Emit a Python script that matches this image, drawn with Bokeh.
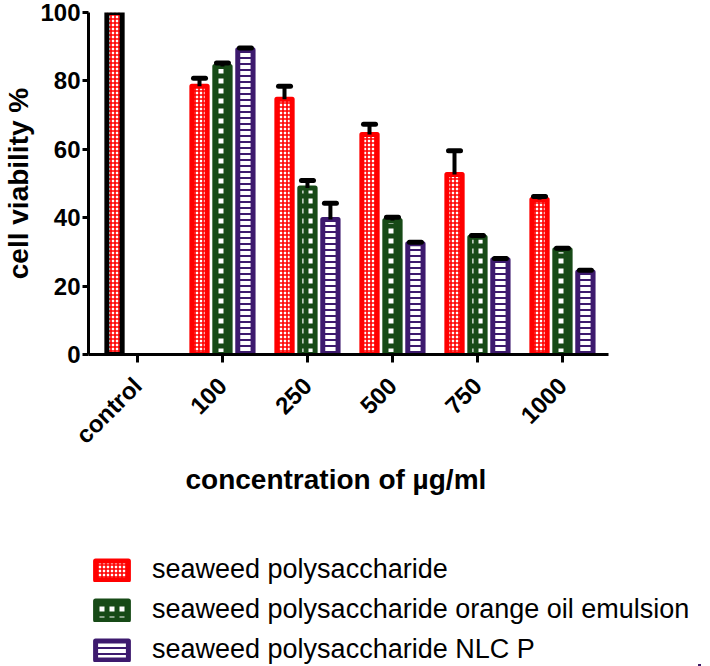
import math
from bokeh.plotting import figure
from bokeh.layouts import column
from bokeh.models import (ColumnDataSource, Range1d, Legend, LegendItem,
                          Whisker, TeeHead, FixedTicker, Title)
from bokeh.transform import dodge
from bokeh.embed import file_html
from bokeh.resources import INLINE

# ---------------- data ----------------
categories = ["control", "100", "250", "500", "750", "1000"]
concentrations = ["100", "250", "500", "750", "1000"]
series_names = ["seaweed polysaccharide",
                "seaweed polysaccharide orange oil emulsion",
                "seaweed polysaccharide NLC P"]
control_value = [100.0]
sp_values = [78.4, 74.6, 64.3, 52.6, 45.3]
sp_errors = [2.4, 3.8, 3.0, 7.0, 0.9]
emul_values = [84.2, 48.7, 39.2, 34.3, 30.6]
emul_errors = [1.0, 2.2, 0.9, 0.5, 0.5]
nlc_values = [89.1, 39.5, 32.4, 27.7, 24.1]
nlc_errors = [0.5, 4.7, 0.4, 0.4, 0.5]
y_ticks = [0, 20, 40, 60, 80, 100]
x_title = "concentration of µg/ml"
y_title = "cell viability %"

# category positions on the x axis
cat_pos = {c: i for i, c in enumerate(categories)}
conc_pos = [cat_pos[c] for c in concentrations]

# ---------------- styles ----------------
RED = "#ff0000"
GREEN = "#174a17"
PURPLE = "#3d1a6e"
FONT = "Liberation Sans"
OFFSETS = [-0.27, 0.0, 0.27]
BAR_W = 0.18
X_START, X_END = -0.576, 6.624

p = figure(
    x_range=Range1d(X_START, X_END),
    y_range=Range1d(0, 100),
    width=710, height=520,
    min_border_left=88, min_border_right=10,
    min_border_top=12, min_border_bottom=166,
    output_backend="svg", toolbar_location=None,
)
p.outline_line_color = None
p.xgrid.visible = False
p.ygrid.visible = False

# control bar
ctrl_src = ColumnDataSource(dict(x=[cat_pos["control"]], top=control_value))
p.vbar(x=dodge("x", OFFSETS[0]), top="top", bottom=0, width=BAR_W,
       source=ctrl_src, fill_color="white", line_color="black", line_width=5,
       line_join="round", hatch_pattern="cross", hatch_color=RED,
       hatch_scale=4, hatch_weight=1.6)

styles = [
    dict(line_color=RED, fill_color="white", hatch_pattern="cross", hatch_color=RED,
         hatch_scale=4, hatch_weight=1.6),
    dict(line_color=GREEN, fill_color="white", hatch_pattern="cross", hatch_color=GREEN,
         hatch_scale=10, hatch_weight=5),
    dict(line_color=PURPLE, fill_color="white", hatch_pattern="horizontal_line",
         hatch_color=PURPLE, hatch_scale=6, hatch_weight=2),
]
vals = [sp_values, emul_values, nlc_values]
errs = [sp_errors, emul_errors, nlc_errors]

sources = []
for name, v, e, off, st in zip(series_names, vals, errs, OFFSETS, styles):
    src = ColumnDataSource(dict(x=conc_pos, top=v,
                                upper=[a + b for a, b in zip(v, e)]))
    sources.append(src)
    p.vbar(x=dodge("x", off), top="top", bottom=0, width=BAR_W,
           source=src, line_width=5, line_join="round", **st)
    w = Whisker(source=src, base=dodge("x", off), lower="top",
                upper="upper", dimension="height", line_width=4, line_color="black",
                upper_head=TeeHead(size=12, line_width=5, line_color="black",
                                   line_cap="round"),
                lower_head=None, level="annotation")
    p.add_layout(w)

# axes
for ax in (p.xaxis[0], p.yaxis[0]):
    ax.axis_line_width = 3
    ax.major_tick_line_width = 3
    ax.major_tick_in = 0
    ax.minor_tick_line_color = None
    ax.major_label_text_font = FONT
    ax.major_label_text_font_style = "bold"
    ax.major_label_text_font_size = "24px"
    ax.major_label_text_color = "black"
    ax.axis_label_text_font = FONT
    ax.axis_label_text_font_style = "bold"
    ax.axis_label_text_font_size = "28px"
    ax.axis_label_text_color = "black"

p.yaxis.ticker = FixedTicker(ticks=y_ticks)
p.yaxis.bounds = (0, 100)
p.yaxis.major_tick_out = 6
p.yaxis.major_label_standoff = 2
p.yaxis.axis_label = y_title
p.yaxis.axis_label_standoff = 3

p.xaxis.ticker = FixedTicker(ticks=list(cat_pos.values()))
p.xaxis.major_label_overrides = {i: c for c, i in cat_pos.items()}
p.xaxis.bounds = (X_START, 5.54)
p.xaxis.major_tick_out = 8
p.xaxis.major_label_orientation = math.pi / 4
p.xaxis.major_label_standoff = 19

# x-axis title, placed under the axis (left-aligned with an offset)
p.add_layout(Title(text=x_title, align="left", offset=97, standoff=0,
                   text_font=FONT, text_font_style="bold", text_font_size="28px",
                   text_color="black"), "below")

# ---------------- legend panel ----------------
# same series drawn again out of view (shifted off the frame), only to feed the legend
lg = figure(width=710, height=146,
            x_range=Range1d(X_START, X_END), y_range=Range1d(150, 250),
            x_axis_type=None, y_axis_type=None, min_border=0,
            output_backend="svg", toolbar_location=None)
lg.outline_line_color = None
lg.xgrid.visible = False
lg.ygrid.visible = False
items = []
for name, src, st in zip(series_names, sources, styles):
    r = lg.vbar(x=dodge("x", 50), top="top", bottom=0, width=BAR_W, source=src,
                line_width=5, line_join="round", **st)
    items.append(LegendItem(label=name, renderers=[r]))

legend = Legend(items=items, location=(3, 1), orientation="vertical",
                glyph_width=41, glyph_height=24, label_height=24,
                label_standoff=20, spacing=9, padding=0, margin=0,
                border_line_color=None, background_fill_alpha=0,
                label_text_font=FONT, label_text_font_size="27px",
                label_text_color="black")
lg.add_layout(legend, "center")

layout = column(p, lg, spacing=0)
open("out.html", "w").write(file_html(layout, INLINE))
